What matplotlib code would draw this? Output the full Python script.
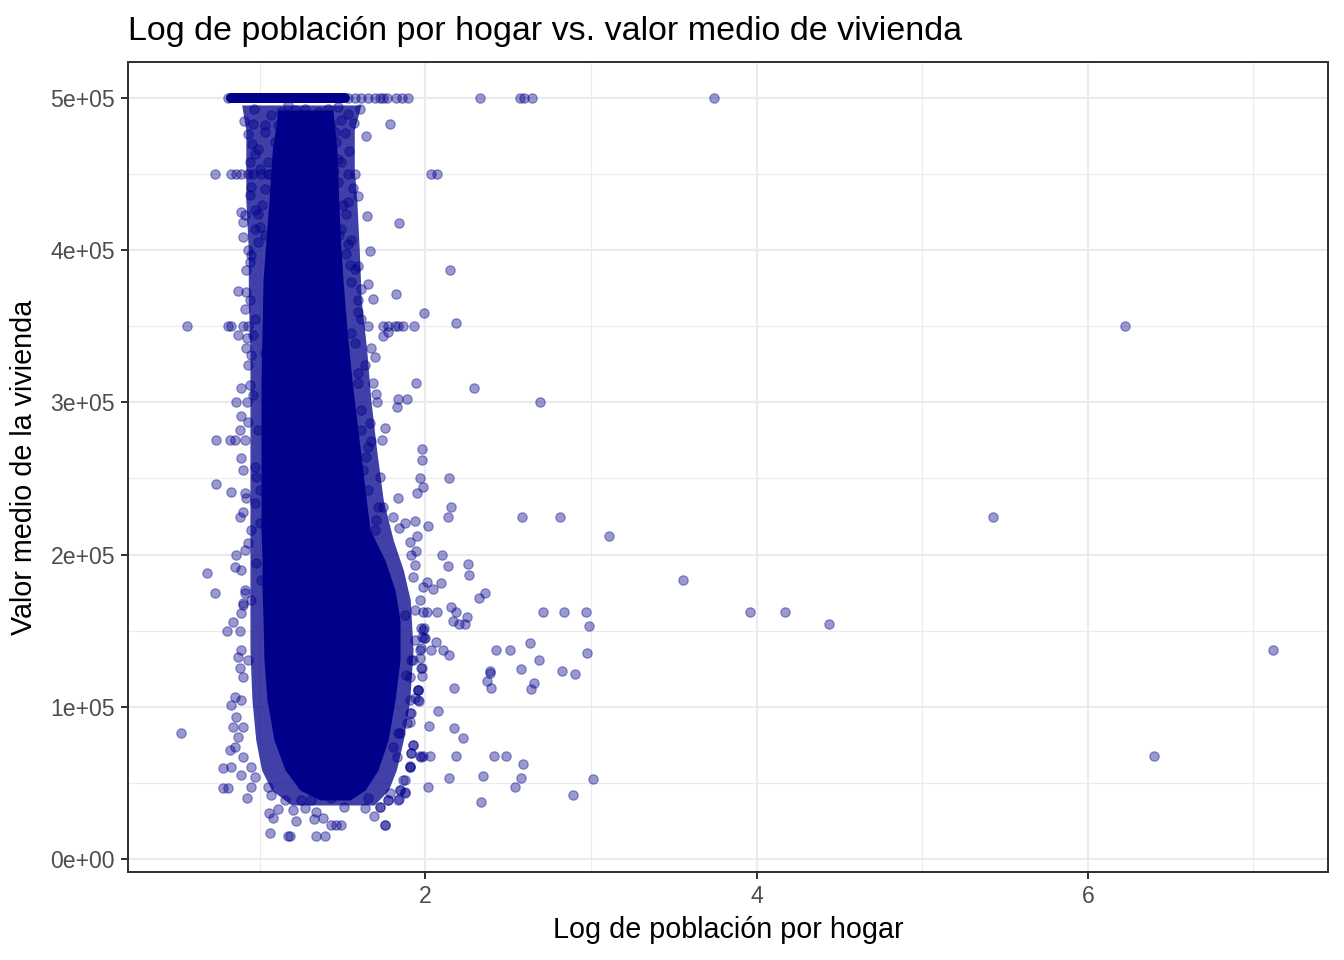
import numpy as np
import matplotlib
matplotlib.use("Agg")
import matplotlib.pyplot as plt
from matplotlib.ticker import FixedLocator, FuncFormatter

plt.rcParams['font.family'] = ['Liberation Sans', 'DejaVu Sans']

# ---- data ----
# dense core of the cloud: value (y) and left/right edge of the saturated area (x)
core_y = [492100, 465800, 433000, 406700, 380400, 347600, 314700, 281900, 249000,
          216200, 196400, 176700, 157000, 130700, 104500, 78200, 58500, 45300, 38800]
core_left = [1.110, 1.075, 1.055, 1.037, 1.019, 1.013, 1.007, 1.007, 1.007,
             1.007, 1.013, 1.013, 1.019, 1.025, 1.043, 1.085, 1.152, 1.242, 1.363]
core_right = [1.440, 1.465, 1.476, 1.486, 1.502, 1.526, 1.556, 1.592, 1.628,
              1.665, 1.755, 1.816, 1.846, 1.846, 1.816, 1.774, 1.713, 1.635, 1.544]

# outer, less crowded band of the cloud
halo_y = [495400, 479000, 452700, 433000, 400100, 367300, 334400, 301600, 268700, 235900,
          209600, 189900, 170200, 137300, 104500, 78200, 58500, 45300, 35500]
halo_left = [0.890, 0.915, 0.915, 0.915, 0.930, 0.930, 0.940, 0.940, 0.940, 0.940,
             0.940, 0.940, 0.940, 0.940, 0.952, 0.975, 1.010, 1.070, 1.190]
halo_right = [1.610, 1.570, 1.570, 1.585, 1.600, 1.612, 1.645, 1.670, 1.705, 1.745,
              1.805, 1.866, 1.908, 1.925, 1.905, 1.866, 1.824, 1.776, 1.690]

# capped value row at 500001
cap_value = 500001
cap_band = [0.827, 1.512]
cap_x = [0.807, 1.532, 1.572, 1.612, 1.653, 1.693, 1.725, 1.745, 1.766, 1.822,
         1.856, 1.896, 2.329, 2.571, 2.595, 2.645, 3.740]

row_450k_x = [0.727, 0.827, 0.858, 0.888, 0.928, 0.958, 1.009, 1.059, 1.532, 1.572, 2.031, 2.071]
row_350k_x = [0.562, 0.807, 0.827, 0.898, 0.928, 1.653, 1.743, 1.775, 1.814, 1.836, 1.862, 1.929]

upper_pts = [
    (0.964, 493000), (0.902, 485000), (0.958, 483100), (1.029, 482000), (1.069, 488600),
    (1.129, 490800), (1.210, 491900), (1.270, 493000), (1.351, 490800), (1.411, 493000),
    (1.472, 494100), (1.532, 489700), (1.602, 493000), (1.568, 483800), (1.639, 474800),
    (1.492, 485300), (1.431, 483100), (1.451, 477600), (1.512, 477200), (0.928, 476500),
    (0.952, 470000), (0.989, 466700), (0.938, 457900), (0.968, 463400), (1.029, 477600),
    (1.089, 471100), (1.150, 479800), (1.250, 477600), (1.331, 473300), (1.411, 466700),
    (1.472, 460100), (1.536, 464900), (1.391, 468900), (1.049, 457900), (1.109, 451400),
    (0.999, 453500), (1.492, 457900), (1.462, 471100), (1.301, 484200), (1.190, 485300),
    (1.220, 468900), (1.170, 462300), (1.311, 462300), (1.170, 495200), (1.250, 488600),
    (1.331, 486400), (1.391, 479800), (1.109, 482000), (1.210, 479800), (1.291, 475500),
    (1.371, 484200), (1.150, 471100), (1.250, 466700), (1.431, 473300), (1.109, 464500),
    (1.331, 466700), (1.210, 474400), (1.411, 488600),
    (0.948, 441500), (0.938, 436000), (0.888, 425100), (0.908, 422900), (0.898, 418500),
    (0.968, 426200), (0.989, 424000), (0.898, 408700), (0.968, 414100), (0.928, 399900),
    (0.948, 396600), (0.938, 392200), (0.918, 386800), (0.989, 405400), (1.029, 409750),
    (1.010, 430000), (1.030, 440000), (1.000, 415000), (1.050, 450000),
    (1.562, 440800), (1.592, 435600), (1.532, 431700), (1.522, 424000), (1.649, 422500),
    (1.492, 414100), (1.552, 406500), (1.532, 404300), (1.663, 399500), (1.522, 397700),
    (1.542, 390000), (1.592, 389600), (1.470, 445000), (1.500, 430000), (1.480, 410000),
    (1.450, 452000),
    (0.868, 373400), (0.918, 372500), (0.938, 367000), (0.908, 361600), (0.968, 355000),
    (0.958, 344000),
    (1.572, 387900), (1.552, 379100), (1.653, 378000), (1.612, 374700), (1.592, 367000),
    (1.683, 367700), (1.592, 359400), (1.612, 355000),
]

middle_pts = [
    (0.868, 344300), (0.924, 342100), (0.918, 335500), (0.948, 331100), (1.029, 332200),
    (0.928, 324600), (0.888, 309200), (0.938, 311400), (0.858, 300000), (0.924, 300000),
    (0.888, 291100), (0.928, 287300), (0.878, 281900), (0.737, 275000), (0.817, 275000),
    (0.848, 275000), (0.908, 275000), (0.888, 263200), (0.898, 255600), (0.968, 257800),
    (0.737, 246200), (0.823, 241300), (0.908, 240200), (0.918, 236960), (0.878, 224900),
    (0.898, 228200), (0.948, 216200), (0.928, 207400), (0.908, 203000), (0.858, 199700),
    (0.848, 192100), (0.888, 189900), (0.679, 187700), (0.727, 175000), (0.908, 176700),
    (0.898, 168000), (0.958, 304900), (0.989, 281900), (0.979, 251200), (0.999, 242400),
    (0.968, 233700), (0.999, 220500), (0.979, 194300), (1.009, 183300), (0.948, 170200),
    (1.548, 345400), (1.673, 335500), (1.697, 330000), (1.633, 324600), (1.592, 319100),
    (1.683, 312500), (1.703, 305500), (1.707, 300000), (1.592, 312500), (1.612, 295000),
    (1.663, 286200), (1.673, 274800), (1.653, 270900), (1.643, 264300), (1.723, 251200),
    (1.713, 231500), (1.703, 222700), (1.693, 216200), (1.673, 203000), (1.653, 194300),
    (1.572, 338800), (1.612, 281900), (1.622, 255600), (1.653, 242400),
]

lower_pts = [
    (0.908, 174500), (0.898, 166900), (0.888, 161400), (0.838, 155500),
    (0.801, 150000), (0.878, 150000), (0.888, 137300), (0.868, 132900), (0.928, 130700),
    (0.878, 125300), (0.898, 119800), (0.848, 106700), (0.888, 104500), (0.827, 101200),
    (0.858, 93500), (0.838, 86900), (0.898, 86900), (0.868, 80400), (0.817, 71600),
    (0.848, 73800), (0.898, 67200), (0.777, 60000), (0.827, 60700), (0.888, 55200),
    (0.948, 60700), (0.777, 46900), (0.807, 46900), (0.944, 47500), (0.922, 40300),
    (0.968, 54100), (1.049, 47500), (1.069, 42000), (0.526, 83000),
    (1.053, 30000), (1.079, 26700), (1.109, 32800), (1.150, 38800), (1.200, 32200),
    (1.216, 25200), (1.270, 33300), (1.325, 26100), (1.341, 31100), (1.381, 26700),
    (1.431, 22500), (1.462, 22500), (1.492, 22500), (1.508, 34400), (1.431, 39900),
    (1.633, 33300), (1.687, 28500), (1.727, 34400), (1.753, 22300), (1.653, 39900),
    (1.774, 38800), (1.834, 38800), (1.341, 14999), (1.391, 14999), (1.170, 14999),
    (1.180, 14999), (1.061, 17300), (1.250, 38800), (1.311, 38800), (1.371, 45300),
    (1.874, 160300), (1.935, 163600), (1.985, 162500), (1.975, 151500), (1.995, 145000),
    (1.935, 143900), (1.975, 138400), (1.965, 131800), (1.975, 125300), (1.915, 130700),
    (1.884, 120900), (1.955, 111000), (1.904, 104500), (1.955, 104500), (1.915, 95700),
    (1.904, 90200), (1.844, 82600), (1.925, 74900), (1.915, 69400), (1.975, 67200),
    (1.904, 60700), (1.874, 51900), (1.844, 45300), (1.874, 43100),
]

right_pts = [
    (1.786, 483100), (1.840, 417900), (2.146, 387200), (1.820, 371400), (1.989, 358900),
    (2.184, 352400), (1.745, 343400), (1.776, 346200), (1.941, 312900), (2.293, 309700),
    (1.832, 302400), (1.888, 302400), (1.826, 296900), (2.691, 300000), (1.753, 283400),
    (1.735, 275500), (1.977, 269600), (1.977, 262400), (1.965, 250000), (2.140, 250000),
    (1.987, 244200), (1.951, 240700), (1.832, 237400), (2.152, 231500), (2.134, 224900),
    (2.581, 225000), (2.810, 225000), (3.106, 212200), (1.935, 222300), (1.874, 221000),
    (1.840, 217500), (2.013, 219000), (1.951, 212200), (1.904, 208500), (1.941, 202600),
    (1.910, 199700), (2.098, 200000), (2.255, 194000), (2.261, 186600), (2.134, 192500),
    (1.935, 193200), (3.553, 183500), (2.007, 182200), (2.092, 181300), (2.047, 177600),
    (2.357, 175000), (2.323, 171700), (2.067, 162300), (2.708, 162500), (2.834, 162500),
    (2.967, 162500), (3.958, 162500), (4.169, 162500), (2.985, 153300), (2.156, 165600),
    (2.186, 162100), (2.249, 159200), (2.168, 156400), (2.200, 154400), (2.239, 154400),
    (1.991, 151500), (1.991, 145400), (2.061, 142600), (2.631, 142100), (2.424, 137500),
    (2.510, 137500), (2.104, 137500), (2.142, 134200), (2.033, 137300), (2.973, 135600),
    (2.685, 131000), (2.577, 125000), (2.822, 123700), (2.901, 121800), (2.387, 123500),
    (2.387, 122000), (2.369, 116900), (2.396, 112300), (2.653, 115400), (2.637, 111700),
    (2.172, 112300), (1.977, 120400), (1.955, 111200), (1.961, 103800), (2.073, 97500),
    (2.019, 87600), (2.172, 86300), (2.224, 79700), (1.923, 74900), (1.914, 69400),
    (1.967, 67500), (1.983, 67500), (2.027, 67500), (2.184, 67500), (2.414, 67500),
    (2.484, 67500), (2.587, 62600), (1.904, 60900), (2.140, 53400), (2.347, 54700),
    (2.577, 53400), (3.010, 52600), (2.015, 47500), (2.538, 47500), (2.889, 42300),
    (2.333, 37700), (1.753, 22600), (1.840, 39400), (1.776, 38800), (1.876, 44200),
    (1.725, 34400),
    (1.927, 185500), (1.987, 178900), (1.967, 170200), (2.007, 162500), (1.987, 150450),
    (1.977, 146100), (1.967, 137300), (1.927, 130700), (1.977, 125300), (1.906, 119800),
    (1.957, 111000), (1.937, 105600), (1.906, 95700), (1.886, 89100), (1.836, 82600),
    (1.806, 73800), (1.826, 67200), (1.906, 60700), (1.866, 51900), (1.846, 45300),
    (1.786, 43100), (1.806, 224900), (1.745, 231500),
    (4.437, 154400), (5.427, 225000), (6.224, 350000), (6.399, 67500), (7.118, 137500),
]

x_ticks = [2, 4, 6]
y_ticks = [0, 100000, 200000, 300000, 400000, 500000]

title = "Log de población por hogar vs. valor medio de vivienda"
x_label = "Log de población por hogar"
y_label = "Valor medio de la vivienda"

# ---- drawing ----
dark = '#00008B'
fig = plt.figure(figsize=(1344 / 144, 960 / 144), dpi=144)
ax = fig.add_axes([128 / 1344, 88 / 960, 1200 / 1344, 810 / 960])

ax.set_xlim(0.2035, 7.450)
ax.set_ylim(-8541, 523629)

ax.xaxis.set_major_locator(FixedLocator(x_ticks))
ax.xaxis.set_minor_locator(FixedLocator([1, 3, 5, 7]))
ax.yaxis.set_major_locator(FixedLocator(y_ticks))
ax.yaxis.set_minor_locator(FixedLocator([50000, 150000, 250000, 350000, 450000]))
ax.yaxis.set_major_formatter(FuncFormatter(lambda v, p: f"{int(round(v / 1e5))}e+0{5 if v else 0}"))
ax.grid(which='major', color='#EBEBEB', lw=1.1, zorder=0)
ax.grid(which='minor', color='#EBEBEB', lw=0.55, zorder=0)
ax.set_axisbelow(True)

for s in ax.spines.values():
    s.set_color('#333333')
    s.set_linewidth(1.0)
ax.tick_params(which='major', length=3.6, width=1.0, color='#333333',
               labelcolor='#4D4D4D', labelsize=11.5, pad=2.9)
ax.tick_params(which='minor', length=0)

pt = dict(s=22, c=dark, alpha=0.4, edgecolors=dark, linewidths=0.6, zorder=3)

ax.fill_betweenx(halo_y, halo_left, halo_right, color=dark, alpha=0.75, lw=0, zorder=1.5)
ax.fill_betweenx(core_y, core_left, core_right, color=dark, lw=0, zorder=2)
ax.plot(cap_band, [cap_value, cap_value], color=dark, lw=5,
        solid_capstyle='round', zorder=2)

ax.scatter(cap_x, [cap_value] * len(cap_x), **pt)
ax.scatter(row_450k_x, [450000] * len(row_450k_x), **pt)
ax.scatter(row_350k_x, [350000] * len(row_350k_x), **pt)
for group in (upper_pts, middle_pts, lower_pts, right_pts):
    gx, gy = zip(*group)
    ax.scatter(gx, gy, **pt)

ax.set_title(title, loc='left', fontsize=17, pad=10.8, color='black')
ax.set_xlabel(x_label, fontsize=14.4, labelpad=4)
ax.set_ylabel(y_label, fontsize=14.4, labelpad=6)

fig.savefig('out.png', dpi=144)
